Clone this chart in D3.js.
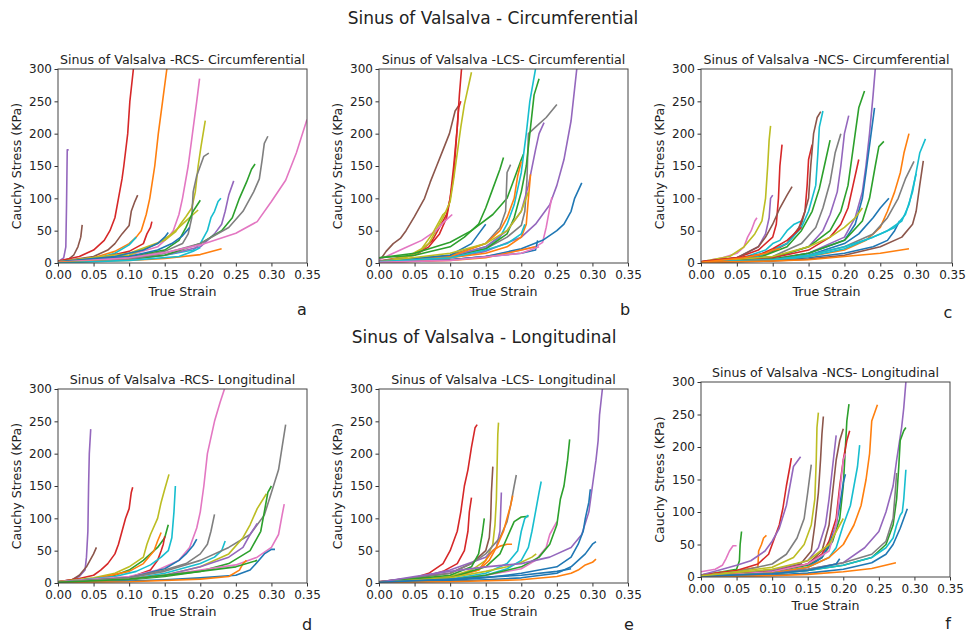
<!DOCTYPE html>
<html>
<head>
<meta charset="utf-8">
<script src="https://cdn.jsdelivr.net/npm/d3@7"></script>
<style>
body { margin: 0; background: #fff; }
text { font-family: "DejaVu Sans", sans-serif; fill: #222; }
</style>
</head>
<body>
<script>
// tick values shared by every panel
var xTicks = [0, 0.05, 0.10, 0.15, 0.20, 0.25, 0.30, 0.35];
var yTicks = [0, 50, 100, 150, 200, 250, 300];

var rowTitles = ['Sinus of Valsalva - Circumferential', 'Sinus of Valsalva - Longitudinal'];
var panelTitles = [
  'Sinus of Valsalva -RCS- Circumferential',
  'Sinus of Valsalva -LCS- Circumferential',
  'Sinus of Valsalva -NCS- Circumferential',
  'Sinus of Valsalva -RCS- Longitudinal',
  'Sinus of Valsalva -LCS- Longitudinal',
  'Sinus of Valsalva -NCS- Longitudinal'
];
var panelLetters = ['a', 'b', 'c', 'd', 'e', 'f'];

// each curve: [colour-cycle index (C0..C9), [[true strain, cauchy stress kPa], ...]]
var rcsCirc = [
  [4, [[0,2],[0.008,8],[0.011,25],[0.012,90],[0.013,175],[0.015,175]]],
  [5, [[0,2],[0.015,6],[0.022,12],[0.028,25],[0.032,40],[0.034,59]]],
  [3, [[0,3],[0.03,10],[0.05,20],[0.065,35],[0.073,50],[0.08,70],[0.085,100],[0.09,130],[0.0925,150],[0.098,200],[0.101,250],[0.106,300]]],
  [5, [[0,2],[0.05,10],[0.07,20],[0.08,30],[0.09,45],[0.1,58],[0.103,80],[0.108,95],[0.112,105]]],
  [1, [[0,2],[0.05,8],[0.08,18],[0.1,30],[0.11,40],[0.117,50],[0.124,75],[0.129,100],[0.136,150],[0.141,200],[0.147,250],[0.153,300]]],
  [9, [[0,1],[0.05,6],[0.08,15],[0.1,28],[0.11,40]]],
  [3, [[0,2],[0.06,8],[0.1,18],[0.12,30],[0.125,45],[0.13,55],[0.132,64]]],
  [6, [[0,2],[0.1,12],[0.14,25],[0.155,40],[0.162,50],[0.17,75],[0.175,100],[0.183,150],[0.189,200],[0.195,250],[0.199,285]]],
  [8, [[0,2],[0.1,15],[0.15,35],[0.165,48],[0.172,60],[0.18,72],[0.188,85],[0.193,110],[0.197,150],[0.201,180],[0.207,220]]],
  [8, [[0,1],[0.1,12],[0.14,30],[0.16,45],[0.17,55],[0.18,65],[0.19,75],[0.197,82]]],
  [7, [[0,1],[0.1,8],[0.15,18],[0.175,30],[0.183,45],[0.188,70],[0.19,110],[0.195,135],[0.2,150],[0.205,165],[0.212,170]]],
  [2, [[0,1],[0.1,10],[0.15,20],[0.17,35],[0.18,55],[0.19,80],[0.2,97]]],
  [0, [[0,1],[0.1,10],[0.14,20],[0.16,30],[0.175,42],[0.185,55]]],
  [0, [[0,2],[0.08,10],[0.12,20],[0.14,30],[0.15,40],[0.155,47]]],
  [9, [[0,1],[0.1,6],[0.15,12],[0.19,20],[0.2,30],[0.21,50],[0.215,70],[0.22,80],[0.225,95],[0.229,100]]],
  [4, [[0,1],[0.1,6],[0.15,12],[0.2,25],[0.22,45],[0.23,60],[0.235,80],[0.24,105],[0.247,127]]],
  [2, [[0,1],[0.1,6],[0.15,12],[0.2,30],[0.23,50],[0.245,70],[0.255,100],[0.265,125],[0.272,145],[0.277,153]]],
  [7, [[0,1],[0.1,6],[0.15,15],[0.2,30],[0.24,55],[0.26,80],[0.275,110],[0.283,130],[0.287,160],[0.29,185],[0.295,196]]],
  [6, [[0,1],[0.1,8],[0.15,16],[0.2,28],[0.25,46],[0.28,64],[0.3,95],[0.32,128],[0.335,170],[0.35,222]]],
  [1, [[0,1],[0.1,4],[0.15,7],[0.2,13],[0.23,22]]],
  [9, [[0,0],[0.1,4],[0.17,10],[0.19,18],[0.2,24]]]
];

var lcsCirc = [
  [5, [[0,5],[0.005,10],[0.01,18],[0.02,30],[0.03,38],[0.038,50],[0.05,72],[0.064,100],[0.072,125],[0.081,150],[0.09,175],[0.099,200],[0.107,235],[0.113,245]]],
  [3, [[0,2],[0.04,10],[0.06,20],[0.075,35],[0.085,55],[0.095,75],[0.1,100],[0.105,150],[0.11,210],[0.113,260],[0.116,300]]],
  [3, [[0,3],[0.05,12],[0.07,25],[0.085,45],[0.095,70],[0.1,100],[0.105,135],[0.108,180],[0.112,240],[0.115,250]]],
  [8, [[0,2],[0.05,12],[0.07,30],[0.08,50],[0.09,70],[0.1,95],[0.105,130],[0.11,170],[0.115,210],[0.12,245],[0.13,295]]],
  [6, [[0,5],[0.02,15],[0.04,25],[0.06,35],[0.08,50],[0.09,62],[0.1,72],[0.103,75]]],
  [8, [[0,2],[0.04,10],[0.06,22],[0.075,45],[0.085,65],[0.09,75],[0.095,80]]],
  [2, [[0,8],[0.05,12],[0.1,25],[0.12,40],[0.14,60],[0.15,85],[0.16,115],[0.17,145],[0.175,163]]],
  [2, [[0,8],[0.05,15],[0.1,32],[0.13,50],[0.16,75],[0.18,100],[0.19,130],[0.2,160],[0.203,168]]],
  [7, [[0,3],[0.1,12],[0.15,30],[0.17,55],[0.178,80],[0.18,140],[0.185,152]]],
  [7, [[0,2],[0.1,10],[0.15,22],[0.18,40],[0.2,58],[0.205,80],[0.208,130],[0.21,200],[0.22,210],[0.235,225],[0.25,245]]],
  [9, [[0,2],[0.1,10],[0.15,25],[0.17,40],[0.18,60],[0.19,90],[0.2,140],[0.207,200],[0.212,250],[0.22,300]]],
  [2, [[0,3],[0.1,10],[0.15,22],[0.18,45],[0.19,70],[0.2,110],[0.207,150],[0.212,200],[0.218,260],[0.225,285]]],
  [4, [[0,3],[0.1,10],[0.15,25],[0.18,50],[0.2,80],[0.21,120],[0.22,175],[0.225,200],[0.232,217]]],
  [4, [[0,2],[0.1,8],[0.15,18],[0.2,40],[0.22,60],[0.24,90],[0.25,120],[0.26,160],[0.27,220],[0.275,270],[0.278,300]]],
  [1, [[0,2],[0.1,10],[0.15,30],[0.17,50],[0.18,70],[0.19,100],[0.195,135],[0.2,157]]],
  [1, [[0,2],[0.1,8],[0.15,15],[0.18,25],[0.2,40],[0.207,60],[0.21,100],[0.213,137]]],
  [0, [[0,2],[0.1,12],[0.13,30],[0.14,45],[0.15,60]]],
  [8, [[0,2],[0.1,15],[0.15,30],[0.18,50],[0.2,80],[0.21,110]]],
  [6, [[0,1],[0.1,5],[0.15,10],[0.2,20],[0.22,25],[0.23,32],[0.235,55],[0.24,85],[0.243,102]]],
  [0, [[0,2],[0.1,5],[0.15,10],[0.2,22],[0.23,35],[0.25,50],[0.26,60],[0.27,80],[0.275,100],[0.285,124]]],
  [0, [[0,1],[0.1,5],[0.2,15],[0.22,20],[0.223,35]]],
  [1, [[0,1],[0.1,4],[0.15,8],[0.2,20],[0.22,25]]],
  [9, [[0,2],[0.1,8],[0.15,20],[0.18,30],[0.2,45],[0.205,60]]],
  [6, [[0,1],[0.1,4],[0.2,15],[0.225,25]]]
];

var ncsCirc = [
  [6, [[0,2],[0.03,8],[0.05,15],[0.06,25],[0.065,40],[0.07,50],[0.075,65],[0.078,70]]],
  [8, [[0,2],[0.04,10],[0.06,25],[0.075,45],[0.085,65],[0.09,100],[0.093,150],[0.095,190],[0.097,212]]],
  [4, [[0,1],[0.05,8],[0.08,25],[0.09,45],[0.095,70],[0.097,100],[0.1,105]]],
  [3, [[0,2],[0.05,8],[0.08,20],[0.1,40],[0.105,60],[0.108,100],[0.11,150],[0.113,183]]],
  [5, [[0,2],[0.05,8],[0.08,25],[0.09,40],[0.1,60],[0.11,85],[0.12,105],[0.127,118]]],
  [9, [[0,1],[0.05,5],[0.09,20],[0.1,30],[0.11,35],[0.12,50],[0.13,60],[0.14,65]]],
  [3, [[0,2],[0.05,6],[0.1,18],[0.12,30],[0.135,50],[0.145,80],[0.148,120],[0.15,160],[0.155,183]]],
  [5, [[0,1],[0.08,10],[0.12,30],[0.14,60],[0.15,100],[0.153,150],[0.157,200],[0.162,225],[0.167,234]]],
  [9, [[0,1],[0.08,10],[0.12,30],[0.14,55],[0.15,80],[0.16,120],[0.163,170],[0.165,210],[0.17,235]]],
  [2, [[0,1],[0.08,8],[0.12,25],[0.14,50],[0.155,80],[0.165,115],[0.172,150],[0.18,190]]],
  [7, [[0,1],[0.1,10],[0.14,30],[0.16,55],[0.17,85],[0.18,125],[0.187,170],[0.195,200]]],
  [4, [[0,1],[0.1,8],[0.15,25],[0.17,50],[0.18,75],[0.19,110],[0.195,150],[0.2,200],[0.206,228]]],
  [2, [[0,1],[0.1,8],[0.15,25],[0.18,50],[0.195,80],[0.205,120],[0.21,160],[0.215,200],[0.22,240],[0.228,266]]],
  [3, [[0,1],[0.1,8],[0.15,20],[0.18,40],[0.195,60],[0.205,85],[0.212,120],[0.22,160]]],
  [4, [[0,1],[0.1,6],[0.15,15],[0.2,40],[0.215,70],[0.225,110],[0.23,150],[0.235,200],[0.24,260],[0.243,300]]],
  [0, [[0,1],[0.1,5],[0.15,15],[0.2,35],[0.215,60],[0.225,100],[0.23,140],[0.236,190],[0.242,240]]],
  [8, [[0,1],[0.1,10],[0.15,25],[0.18,40],[0.2,55],[0.215,70],[0.225,85]]],
  [2, [[0,1],[0.1,6],[0.15,15],[0.2,35],[0.225,65],[0.235,100],[0.243,150],[0.248,180],[0.255,188]]],
  [0, [[0,1],[0.1,5],[0.15,12],[0.2,30],[0.22,45],[0.24,70],[0.25,85],[0.262,100]]],
  [0, [[0,1],[0.1,4],[0.15,8],[0.2,15],[0.24,25],[0.26,35],[0.27,50],[0.277,65]]],
  [1, [[0,1],[0.1,5],[0.15,10],[0.2,20],[0.23,35],[0.25,55],[0.26,80],[0.27,110],[0.278,140],[0.283,170],[0.29,200]]],
  [7, [[0,1],[0.1,5],[0.15,12],[0.2,25],[0.24,45],[0.26,70],[0.275,100],[0.285,130],[0.297,157]]],
  [9, [[0,1],[0.1,4],[0.15,10],[0.2,22],[0.25,45],[0.27,55],[0.285,75],[0.295,110],[0.3,140],[0.305,170],[0.313,192]]],
  [9, [[0,1],[0.1,5],[0.15,12],[0.2,25],[0.24,40],[0.26,50],[0.28,65],[0.29,90],[0.3,138]]],
  [5, [[0,1],[0.1,3],[0.15,6],[0.2,12],[0.25,25],[0.28,40],[0.295,60],[0.3,80],[0.305,120],[0.31,158]]],
  [1, [[0,1],[0.1,3],[0.15,5],[0.2,10],[0.25,15],[0.29,22]]],
  [3, [[0,2],[0.08,12],[0.1,22],[0.12,35],[0.13,45],[0.14,55]]],
  [1, [[0,1],[0.06,8],[0.09,15],[0.1,20],[0.11,22]]]
];

var rcsLong = [
  [4, [[0,2],[0.02,5],[0.03,10],[0.038,20],[0.04,40],[0.042,80],[0.043,150],[0.044,200],[0.046,238]]],
  [5, [[0,2],[0.02,5],[0.03,12],[0.04,25],[0.045,35],[0.05,45],[0.054,55]]],
  [3, [[0,2],[0.03,7],[0.05,12],[0.06,20],[0.07,30],[0.08,45],[0.085,60],[0.09,80],[0.095,100],[0.1,115],[0.103,140],[0.105,148]]],
  [8, [[0,2],[0.05,8],[0.08,15],[0.1,25],[0.12,40],[0.125,60],[0.13,75],[0.14,100],[0.145,125],[0.15,145],[0.156,168]]],
  [2, [[0,2],[0.05,6],[0.08,12],[0.1,20],[0.12,35],[0.14,55],[0.15,70],[0.155,90]]],
  [1, [[0,2],[0.05,6],[0.1,18],[0.12,30],[0.135,50],[0.14,65],[0.145,78]]],
  [3, [[0,1],[0.1,8],[0.13,20],[0.14,35],[0.145,50],[0.148,60],[0.15,72]]],
  [9, [[0,1],[0.08,10],[0.11,18],[0.13,28],[0.145,40],[0.155,50],[0.16,70],[0.163,110],[0.165,150]]],
  [6, [[0,2],[0.1,10],[0.14,20],[0.17,35],[0.185,55],[0.195,85],[0.2,110],[0.205,150],[0.21,200],[0.22,250],[0.228,280],[0.234,300]]],
  [0, [[0,1],[0.1,8],[0.15,22],[0.17,35],[0.18,45],[0.19,58],[0.195,68]]],
  [7, [[0,1],[0.1,8],[0.15,20],[0.18,30],[0.2,45],[0.21,60],[0.215,80],[0.22,106]]],
  [9, [[0,1],[0.1,6],[0.15,15],[0.2,30],[0.22,40],[0.23,50],[0.235,65]]],
  [7, [[0,1],[0.1,8],[0.15,18],[0.2,35],[0.24,55],[0.27,75],[0.29,105],[0.3,140],[0.31,175],[0.315,210],[0.32,245]]],
  [8, [[0,1],[0.1,6],[0.15,12],[0.2,25],[0.24,45],[0.26,70],[0.27,90],[0.28,115],[0.293,138]]],
  [4, [[0,1],[0.1,6],[0.15,12],[0.2,25],[0.24,40],[0.26,55],[0.27,75],[0.28,92]]],
  [2, [[0,1],[0.1,5],[0.15,10],[0.2,18],[0.24,30],[0.27,50],[0.285,80],[0.29,110],[0.295,140],[0.3,150]]],
  [6, [[0,1],[0.1,6],[0.15,12],[0.2,20],[0.25,28],[0.28,40],[0.3,55],[0.31,75],[0.315,105],[0.318,122]]],
  [0, [[0,1],[0.1,3],[0.15,5],[0.2,8],[0.25,12],[0.27,20],[0.28,32],[0.29,45],[0.3,52],[0.305,52]]],
  [1, [[0,1],[0.1,2],[0.2,6],[0.24,10],[0.255,20],[0.26,30],[0.265,35]]],
  [2, [[0,1],[0.1,6],[0.2,18],[0.25,25],[0.28,35]]]
];

var lcsLong = [
  [3, [[0,2],[0.05,8],[0.07,15],[0.09,30],[0.1,50],[0.11,80],[0.115,110],[0.12,150],[0.125,175],[0.13,210],[0.135,240],[0.138,245]]],
  [3, [[0,2],[0.06,8],[0.09,18],[0.11,30],[0.12,50],[0.125,80],[0.127,110],[0.13,132]]],
  [8, [[0,1],[0.1,10],[0.13,20],[0.15,35],[0.16,60],[0.163,90],[0.165,130],[0.166,180],[0.167,230],[0.168,248]]],
  [5, [[0,1],[0.1,15],[0.13,30],[0.15,50],[0.155,70],[0.157,100],[0.158,140],[0.16,180]]],
  [4, [[0,2],[0.05,8],[0.1,20],[0.15,40],[0.165,55],[0.17,80],[0.171,110],[0.172,140]]],
  [7, [[0,2],[0.1,15],[0.13,30],[0.15,45],[0.17,70],[0.18,95],[0.185,120],[0.19,150],[0.193,167]]],
  [1, [[0,1],[0.1,8],[0.14,20],[0.155,35],[0.165,55],[0.175,80],[0.18,100],[0.185,120],[0.188,135]]],
  [1, [[0,1],[0.1,8],[0.14,20],[0.15,35],[0.16,50],[0.17,57],[0.18,60],[0.187,60]]],
  [2, [[0,1],[0.1,12],[0.13,25],[0.14,45],[0.145,75],[0.148,100]]],
  [2, [[0,1],[0.1,8],[0.15,25],[0.17,45],[0.18,70],[0.19,95],[0.2,102],[0.21,103]]],
  [9, [[0,1],[0.1,6],[0.15,15],[0.18,30],[0.195,50],[0.2,80],[0.205,100],[0.21,105]]],
  [8, [[0,1],[0.1,8],[0.15,18],[0.18,25],[0.2,32],[0.215,40],[0.221,45]]],
  [9, [[0,1],[0.1,5],[0.15,12],[0.18,22],[0.2,35],[0.21,55],[0.215,80],[0.22,110],[0.225,140],[0.228,157]]],
  [6, [[0,1],[0.1,5],[0.15,12],[0.2,22],[0.22,35],[0.235,55],[0.24,75],[0.25,95]]],
  [2, [[0,1],[0.1,5],[0.15,12],[0.2,25],[0.225,40],[0.24,60],[0.25,90],[0.255,130],[0.26,150],[0.265,190],[0.268,222]]],
  [4, [[0,1],[0.05,10],[0.1,18],[0.15,25],[0.2,30],[0.24,40],[0.27,55],[0.285,75],[0.295,110],[0.3,150],[0.305,190],[0.308,220],[0.31,260],[0.314,300]]],
  [0, [[0,1],[0.1,4],[0.15,8],[0.2,15],[0.25,25],[0.27,40],[0.28,60],[0.287,80],[0.29,100],[0.295,125],[0.297,145]]],
  [0, [[0,1],[0.1,3],[0.15,5],[0.2,8],[0.25,15],[0.27,25],[0.28,35],[0.29,45],[0.3,60],[0.305,64]]],
  [1, [[0,1],[0.1,2],[0.2,5],[0.25,10],[0.27,15],[0.28,20],[0.29,28],[0.3,32],[0.305,37]]],
  [0, [[0,1],[0.1,6],[0.2,12],[0.25,18],[0.27,22]]]
];

var ncsLong = [
  [6, [[0,8],[0.02,12],[0.03,18],[0.035,28],[0.04,40],[0.045,48],[0.05,48]]],
  [2, [[0,3],[0.03,8],[0.05,12],[0.054,25],[0.055,50],[0.057,70]]],
  [1, [[0,3],[0.05,10],[0.08,15],[0.081,40],[0.085,50],[0.088,60],[0.092,64]]],
  [3, [[0,3],[0.05,10],[0.08,20],[0.095,35],[0.1,50],[0.11,80],[0.115,105],[0.12,140],[0.125,170],[0.127,183]]],
  [4, [[0,3],[0.03,12],[0.05,18],[0.07,25],[0.09,40],[0.1,55],[0.11,75],[0.12,110],[0.125,140],[0.13,170],[0.14,185]]],
  [7, [[0,2],[0.05,8],[0.1,20],[0.12,35],[0.135,60],[0.145,90],[0.15,130],[0.155,173]]],
  [8, [[0,2],[0.05,8],[0.1,15],[0.13,30],[0.145,50],[0.155,80],[0.16,120],[0.162,180],[0.163,230],[0.165,253]]],
  [5, [[0,2],[0.1,10],[0.14,20],[0.155,40],[0.16,80],[0.165,130],[0.168,180],[0.17,220],[0.172,247]]],
  [4, [[0,2],[0.1,10],[0.15,25],[0.165,45],[0.175,80],[0.18,120],[0.185,170],[0.19,218]]],
  [5, [[0,2],[0.1,8],[0.15,20],[0.17,40],[0.18,80],[0.185,130],[0.19,180],[0.195,210],[0.2,228]]],
  [2, [[0,2],[0.1,8],[0.15,18],[0.17,30],[0.185,55],[0.195,90],[0.2,140],[0.203,200],[0.205,240],[0.208,266]]],
  [3, [[0,2],[0.1,8],[0.15,20],[0.17,35],[0.18,55],[0.19,90],[0.195,140],[0.2,180],[0.205,210],[0.209,225]]],
  [0, [[0,1],[0.1,6],[0.15,15],[0.17,30],[0.18,50],[0.19,80],[0.195,110],[0.2,145],[0.203,158]]],
  [6, [[0,1],[0.1,8],[0.15,20],[0.18,40],[0.19,80],[0.195,130],[0.2,180],[0.203,190]]],
  [9, [[0,1],[0.1,6],[0.15,15],[0.18,30],[0.19,45],[0.2,80],[0.21,110],[0.215,140],[0.22,170],[0.223,203]]],
  [1, [[0,1],[0.1,6],[0.15,15],[0.18,30],[0.2,50],[0.215,80],[0.225,110],[0.232,150],[0.237,190],[0.24,240],[0.248,265]]],
  [4, [[0,1],[0.1,5],[0.15,12],[0.2,22],[0.23,45],[0.25,70],[0.26,100],[0.27,140],[0.275,180],[0.282,230],[0.285,260],[0.288,300]]],
  [2, [[0,1],[0.1,5],[0.15,10],[0.2,18],[0.24,30],[0.26,50],[0.27,80],[0.275,120],[0.278,170],[0.28,210],[0.285,225],[0.288,230]]],
  [9, [[0,1],[0.1,5],[0.15,10],[0.2,18],[0.24,30],[0.26,45],[0.27,60],[0.275,80],[0.28,95],[0.283,100],[0.285,120],[0.287,150],[0.288,165]]],
  [0, [[0,1],[0.1,3],[0.15,6],[0.2,12],[0.24,22],[0.26,35],[0.27,50],[0.28,75],[0.285,90],[0.29,105]]],
  [7, [[0,1],[0.1,5],[0.15,12],[0.2,22],[0.24,35],[0.26,55],[0.27,90],[0.273,130],[0.275,160]]],
  [1, [[0,0],[0.1,2],[0.15,4],[0.2,8],[0.24,13],[0.274,22]]],
  [0, [[0,1],[0.1,5],[0.15,10],[0.19,20],[0.195,28]]],
  [8, [[0,2],[0.1,12],[0.15,25],[0.18,50],[0.2,90]]]
];

var panelData = [rcsCirc, lcsCirc, ncsCirc, rcsLong, lcsLong, ncsLong];

// where each axes box sits on the page
var boxes = [
  {left: 58, right: 307, top: 69, bottom: 263, lx: 302, ly: 315},
  {left: 379, right: 628, top: 69, bottom: 263, lx: 625, ly: 315},
  {left: 701, right: 952, top: 69, bottom: 263, lx: 948, ly: 318},
  {left: 58, right: 307, top: 389, bottom: 583, lx: 307, ly: 630},
  {left: 379, right: 628, top: 389, bottom: 583, lx: 629, ly: 630},
  {left: 701, right: 950, top: 382, bottom: 577, lx: 948, ly: 629}
];

var colors = d3.schemeCategory10;
var tickSize = 12;
var labelSize = 12.6;

var svg = d3.select('body').append('svg')
    .attr('width', 968)
    .attr('height', 637);

svg.append('text')
    .attr('x', 493).attr('y', 24)
    .attr('text-anchor', 'middle')
    .style('font-size', '17px')
    .text(rowTitles[0]);
svg.append('text')
    .attr('x', 484).attr('y', 343)
    .attr('text-anchor', 'middle')
    .style('font-size', '17px')
    .text(rowTitles[1]);

boxes.forEach(function(b, i) {
  var x = d3.scaleLinear().domain([0, 0.35]).range([b.left, b.right]);
  var y = d3.scaleLinear().domain([0, 300]).range([b.bottom, b.top]);
  var g = svg.append('g');

  g.append('clipPath')
      .attr('id', 'clip' + i)
    .append('rect')
      .attr('x', b.left).attr('y', b.top)
      .attr('width', b.right - b.left)
      .attr('height', b.bottom - b.top);

  var line = d3.line()
      .x(function(d) { return x(d[0]); })
      .y(function(d) { return y(d[1]); });

  g.append('g')
      .attr('clip-path', 'url(#clip' + i + ')')
    .selectAll('path')
      .data(panelData[i])
    .enter().append('path')
      .attr('d', function(d) { return line(d[1]); })
      .style('fill', 'none')
      .style('stroke', function(d) { return colors[d[0]]; })
      .style('stroke-width', 1.6)
      .style('stroke-linejoin', 'round');

  var xAxis = g.append('g')
      .attr('transform', 'translate(0,' + b.bottom + ')')
      .call(d3.axisBottom(x).tickValues(xTicks).tickFormat(d3.format('.2f'))
            .tickSize(3.5).tickSizeOuter(0).tickPadding(3.5));
  var yAxis = g.append('g')
      .attr('transform', 'translate(' + b.left + ',0)')
      .call(d3.axisLeft(y).tickValues(yTicks).tickFormat(d3.format('d'))
            .tickSize(3.5).tickSizeOuter(0).tickPadding(2.5));
  [xAxis, yAxis].forEach(function(a) {
    a.select('.domain').remove();
    a.selectAll('line').style('stroke', '#333');
    a.selectAll('text')
        .style('font-family', '"DejaVu Sans", sans-serif')
        .style('font-size', tickSize + 'px')
        .style('fill', '#222');
  });

  g.append('rect')
      .attr('x', b.left).attr('y', b.top)
      .attr('width', b.right - b.left)
      .attr('height', b.bottom - b.top)
      .style('fill', 'none')
      .style('stroke', '#444')
      .style('stroke-width', 1);

  g.append('text')
      .attr('x', (b.left + b.right) / 2)
      .attr('y', b.top - 5)
      .attr('text-anchor', 'middle')
      .style('font-size', labelSize + 'px')
      .text(panelTitles[i]);

  g.append('text')
      .attr('x', (b.left + b.right) / 2)
      .attr('y', b.bottom + 33)
      .attr('text-anchor', 'middle')
      .style('font-size', labelSize + 'px')
      .text('True Strain');

  g.append('text')
      .attr('transform', 'translate(' + (b.left - 37) + ',' + ((b.top + b.bottom) / 2) + ') rotate(-90)')
      .attr('text-anchor', 'middle')
      .style('font-size', labelSize + 'px')
      .text('Cauchy Stress (KPa)');

  g.append('text')
      .attr('x', b.lx).attr('y', b.ly)
      .attr('text-anchor', 'middle')
      .style('font-size', '16px')
      .text(panelLetters[i]);
});
</script>
</body>
</html>
